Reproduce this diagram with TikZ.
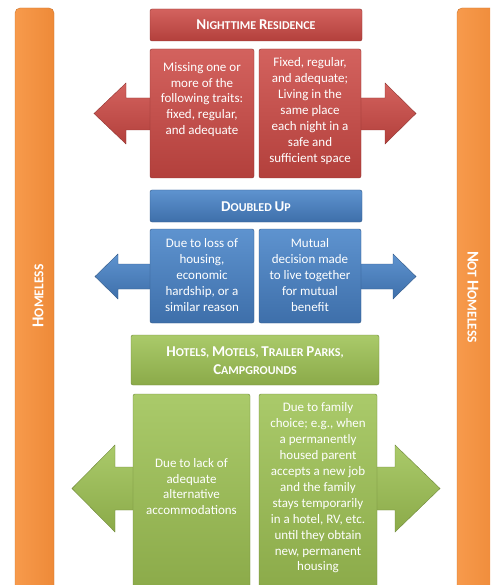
\documentclass[tikz,border=0pt]{standalone}
\usepackage{fontspec}
\setmainfont{Carlito}
\definecolor{rtop}{HTML}{D3625E}
\definecolor{rbot}{HTML}{B3403C}
\definecolor{btop}{HTML}{5E93CF}
\definecolor{bbot}{HTML}{3E6FAA}
\definecolor{gtop}{HTML}{AACA6A}
\definecolor{gbot}{HTML}{8BAA49}
\definecolor{otop}{HTML}{F79A4C}
\definecolor{obot}{HTML}{EE8A38}
\newcommand\hsc[2]{{\fontsize{15}{18}\selectfont#1}{\fontsize{12}{18}\selectfont#2}}
\newcommand\vsc[2]{{\fontsize{16.5}{19}\selectfont#1}{\fontsize{13.5}{19}\selectfont#2}}
\tikzset{
  redfill/.style={top color=rtop,bottom color=rbot,draw=rbot!80!black,line width=0.4pt},
  bluefill/.style={top color=btop,bottom color=bbot,draw=bbot!80!black,line width=0.4pt},
  greenfill/.style={top color=gtop,bottom color=gbot,draw=gbot!80!black,line width=0.4pt},
  bar/.style={left color=otop,right color=obot,draw=obot!85!black,line width=0.4pt,rounded corners=5pt},
  box/.style={rounded corners=2pt},
  body/.style={text=white,align=center,font=\fontsize{13}{15.9}\selectfont},
  head/.style={text=white,align=center,font=\bfseries\fontsize{12}{18}\selectfont},
}
\begin{document}
\begin{tikzpicture}[x=1pt,y=-1pt]
\useasboundingbox (0,0) rectangle (490,585);
\clip (0,0) rectangle (490,585);
% side bars
\draw[bar] (15,592) rectangle (54,8);
\draw[bar] (457,592) rectangle (500,8);
\node[head,rotate=90] (homeless) at (38,296) {\vsc{H}{OMELESS}};
\node[head,rotate=-90] (nothomeless) at (473,297) {\vsc{N}{OT} \vsc{H}{OMELESS}};
% ---------- red ----------
\draw[redfill] (160,98) -- (126,98) -- (126,83) -- (94,113.5) -- (126,144) -- (126,130) -- (160,130) -- cycle;
\draw[redfill] (350,98) -- (385,98) -- (385,83) -- (416,113.5) -- (385,144) -- (385,130) -- (350,130) -- cycle;
\draw[redfill,box] (150,9) rectangle (362,41);
\node[head] (nr) at (256,25) {\hsc{N}{IGHTTIME} \hsc{R}{ESIDENCE}};
\draw[redfill,box] (150,49) rectangle (254,178);
\draw[redfill,box] (259,49) rectangle (361,178);
\node[body] (nrl) at (202,99.5) {Missing one or\\more of the\\following traits:\\fixed, regular,\\and adequate};
\node[body] (nrr) at (310,111) {Fixed, regular,\\and adequate;\\Living in the\\same place\\each night in a\\safe and\\sufficient space};
% ---------- blue ----------
\draw[bluefill] (160,264) -- (118,264) -- (118,254) -- (95,276.5) -- (118,299) -- (118,289) -- (160,289) -- cycle;
\draw[bluefill] (350,264) -- (393,264) -- (393,254) -- (416,276.5) -- (393,299) -- (393,289) -- (350,289) -- cycle;
\draw[bluefill,box] (150,190) rectangle (362,222);
\node[head] (du) at (256,206.5) {\hsc{D}{OUBLED} \hsc{U}{P}};
\draw[bluefill,box] (150,229) rectangle (254,323);
\draw[bluefill,box] (259,229) rectangle (361,323);
\node[body] (dul) at (202,275) {Due to loss of\\housing,\\economic\\hardship, or a\\similar reason};
\node[body] (dur) at (310,275) {Mutual\\decision made\\to live together\\for mutual\\benefit};
% ---------- green ----------
\draw[greenfill] (145,467) -- (115,467) -- (115,445) -- (72,488.5) -- (115,532) -- (115,510) -- (145,510) -- cycle;
\draw[greenfill] (365,467) -- (395,467) -- (395,445) -- (440,488.5) -- (395,532) -- (395,510) -- (365,510) -- cycle;
\draw[greenfill,box] (131,335) rectangle (379,385);
\node[head] (hm) at (255,360.5) {\hsc{H}{OTELS}, \hsc{M}{OTELS}, \hsc{T}{RAILER} \hsc{P}{ARKS},\\\hsc{C}{AMPGROUNDS}};
\draw[greenfill,box] (133,394) rectangle (250,592);
\draw[greenfill,box] (259,394) rectangle (377,592);
\node[body] (hml) at (191.5,486.5) {Due to lack of\\adequate\\alternative\\accommodations};
\node[body] (hmr) at (318,488) {Due to family\\choice; e.g., when\\a permanently\\housed parent\\accepts a new job\\and the family\\stays temporarily\\in a hotel, RV, etc.\\until they obtain\\new, permanent\\housing};
\end{tikzpicture}
\end{document}
